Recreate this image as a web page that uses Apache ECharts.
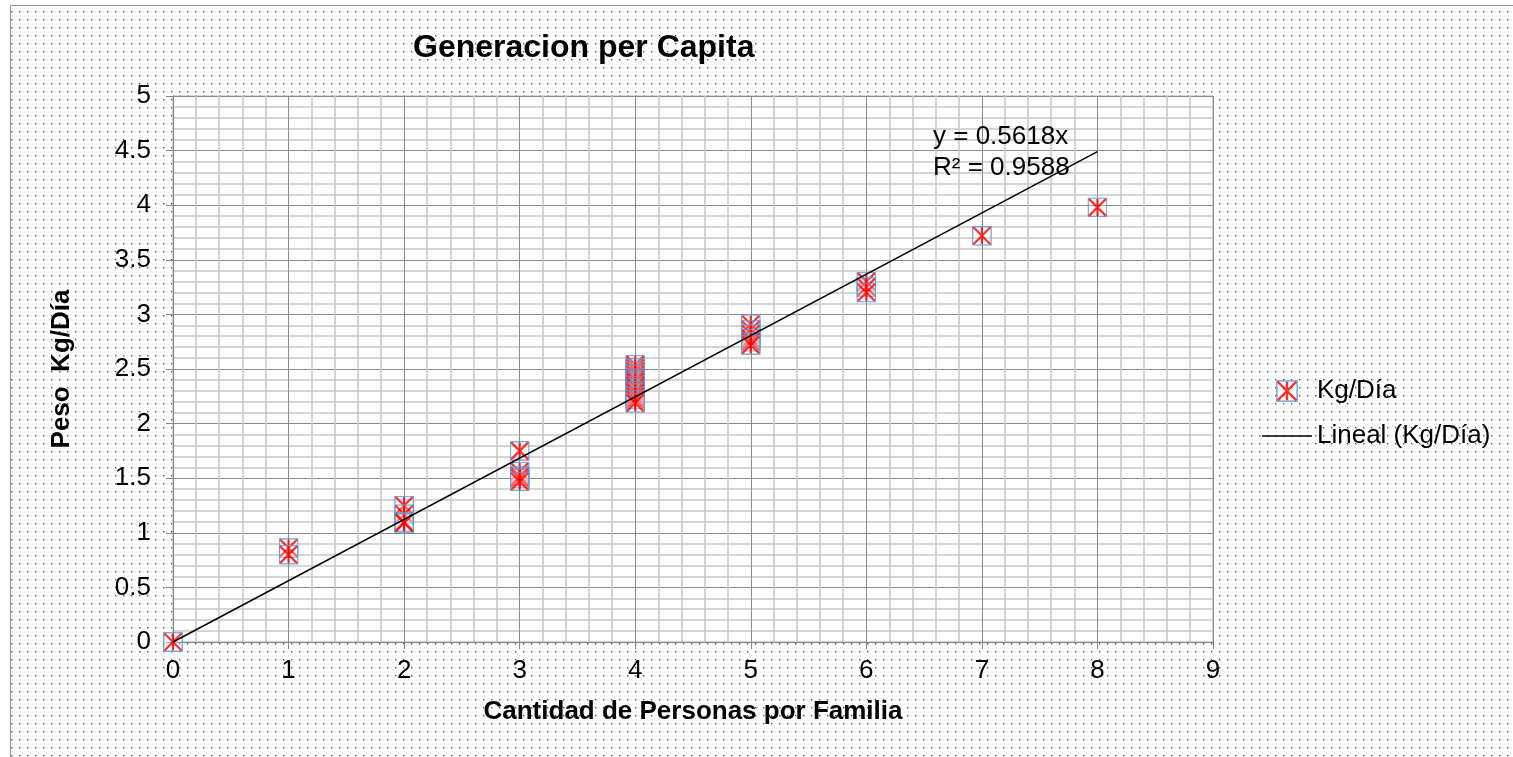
<!DOCTYPE html>
<html>
<head>
<meta charset="utf-8">
<script src="https://cdn.jsdelivr.net/npm/echarts@6/dist/echarts.min.js"></script>
<style>
html,body{margin:0;padding:0;background:#fff;}
#chart{width:1513px;height:757px;}
</style>
</head>
<body>
<div id="chart"></div>
<script>
// datos
var personas = [0, 1, 1, 2, 2, 2, 2, 3, 3, 3, 3, 3,
	4, 4, 4, 4, 4, 4, 4, 4, 4, 4, 4, 4, 4, 4,
	5, 5, 5, 5, 5, 5, 6, 6, 6, 7, 8];
var kgDia = [0, 0.86, 0.80, 1.25, 1.17, 1.10, 1.09, 1.75, 1.56, 1.52, 1.50, 1.47,
	2.54, 2.51, 2.48, 2.45, 2.42, 2.40, 2.38, 2.35, 2.33, 2.30, 2.28, 2.25, 2.22, 2.19,
	2.91, 2.86, 2.82, 2.78, 2.75, 2.72, 3.30, 3.25, 3.20, 3.72, 3.98];
var tendenciaX = [0, 8];
var tendenciaY = [0, 4.49];
var ecuacion = ["y = 0.5618x", "R² = 0.9588"];

var puntos = [];
for (var i = 0; i < personas.length; i++) {
	puntos.push([personas[i], kgDia[i]]);
}
var linea = [];
for (var j = 0; j < tendenciaX.length; j++) {
	linea.push([tendenciaX[j], tendenciaY[j]]);
}

// simbolo: caja azul con asterisco rojo
var svg = '<svg xmlns="http://www.w3.org/2000/svg" width="20" height="20" viewBox="0 0 20 20">' +
	'<rect x="0.75" y="0.75" width="18.5" height="18.5" fill="rgba(255,255,255,0.3)" stroke="#5b9bd5" stroke-width="1.5"/>' +
	'<path d="M1.5 1.5 L18.5 18.5 M18.5 1.5 L1.5 18.5 M10 1.5 L10 18.5" stroke="#ff0000" stroke-width="2.2" fill="none"/>' +
	'</svg>';
var simbolo = 'image://data:image/svg+xml;charset=utf-8,' + encodeURIComponent(svg);

// fondo punteado
var patron = document.createElement('canvas');
patron.width = 8;
patron.height = 8;
var ctx = patron.getContext('2d');
ctx.fillStyle = 'rgba(31,56,100,0.25)';
ctx.fillRect(3, 3, 2, 2);
ctx.fillStyle = 'rgba(31,56,100,0.9)';
ctx.fillRect(3, 3, 1, 1);

var fuente = '"Liberation Sans", Arial, sans-serif';
var chart = echarts.init(document.getElementById('chart'));
var option = {
	backgroundColor: {image: patron, repeat: 'repeat'},
	animation: false,
	textStyle: {fontFamily: fuente},
	title: {
		text: 'Generacion per Capita',
		left: 408,
		top: 27,
		textStyle: {fontSize: 32, fontWeight: 'bold', color: '#000', fontFamily: fuente}
	},
	legend: {
		orient: 'vertical',
		left: 1262,
		top: 378,
		padding: 0,
		itemWidth: 50,
		itemHeight: 22,
		itemGap: 19,
		textStyle: {fontSize: 26, color: '#000', fontFamily: fuente},
		data: [
			{name: 'Kg/Día', icon: simbolo},
			{name: 'Lineal (Kg/Día)', icon: 'path://M0 0 L50 0 L50 1.5 L0 1.5 Z'}
		]
	},
	grid: {
		left: 173,
		right: 300,
		top: 96,
		bottom: 115,
		show: true,
		backgroundColor: '#fff',
		borderColor: '#a6a6a6',
		borderWidth: 1
	},
	xAxis: {
		type: 'value',
		min: 0,
		max: 9,
		interval: 1,
		name: 'Cantidad de Personas por Familia',
		nameLocation: 'middle',
		nameGap: 57,
		nameTextStyle: {fontSize: 26, fontWeight: 'bold', color: '#000', fontFamily: fuente},
		axisLine: {show: true, onZero: false, lineStyle: {color: '#868686', width: 1}},
		axisTick: {show: true, length: 7, lineStyle: {color: '#868686'}},
		axisLabel: {fontSize: 26, color: '#000', margin: 16, fontFamily: fuente},
		splitLine: {show: true, lineStyle: {color: '#8a8a8a', width: 1}},
		minorTick: {show: false, splitNumber: 5},
		minorSplitLine: {show: true, lineStyle: {color: '#c8c8c8', width: 1.5}}
	},
	yAxis: {
		type: 'value',
		min: 0,
		max: 5,
		interval: 0.5,
		name: 'Peso  Kg/Día',
		nameLocation: 'middle',
		nameGap: 98,
		nameRotate: 90,
		nameTextStyle: {fontSize: 26, fontWeight: 'bold', color: '#000', fontFamily: fuente},
		axisLine: {show: true, onZero: false, lineStyle: {color: '#868686', width: 1}},
		axisTick: {show: true, length: 7, lineStyle: {color: '#868686'}},
		axisLabel: {fontSize: 26, color: '#000', margin: 22, fontFamily: fuente},
		splitLine: {show: true, lineStyle: {color: '#8a8a8a', width: 1}},
		minorTick: {show: false, splitNumber: 5},
		minorSplitLine: {show: true, lineStyle: {color: '#c8c8c8', width: 1.5}}
	},
	series: [
		{
			name: 'Lineal (Kg/Día)',
			type: 'line',
			data: linea,
			symbol: 'none',
			z: 4,
			lineStyle: {color: '#000', width: 1.5},
			itemStyle: {color: '#000'}
		},
		{
			name: 'Kg/Día',
			type: 'scatter',
			data: puntos,
			symbol: simbolo,
			symbolSize: [20, 20],
			z: 3,
			itemStyle: {color: '#ff0000'}
		}
	],
	graphic: [
		{type: 'rect', shape: {x: 0, y: 0, width: 10, height: 757}, style: {fill: '#fff'}, z: 0},
		{type: 'rect', shape: {x: 0, y: 0, width: 1513, height: 5}, style: {fill: '#fff'}, z: 0},
		{type: 'polyline', shape: {points: [[10.5, 757], [10.5, 5.5], [1513, 5.5]]}, style: {stroke: '#9a9a9a', lineWidth: 1, fill: null}, z: 0},
		{
			type: 'text',
			left: 933,
			top: 121,
			z: 10,
			style: {
				text: ecuacion.join('\n'),
				fontSize: 26,
				lineHeight: 31,
				fill: '#000',
				fontFamily: fuente
			}
		}
	]
};
chart.setOption(option);
</script>
</body>
</html>
